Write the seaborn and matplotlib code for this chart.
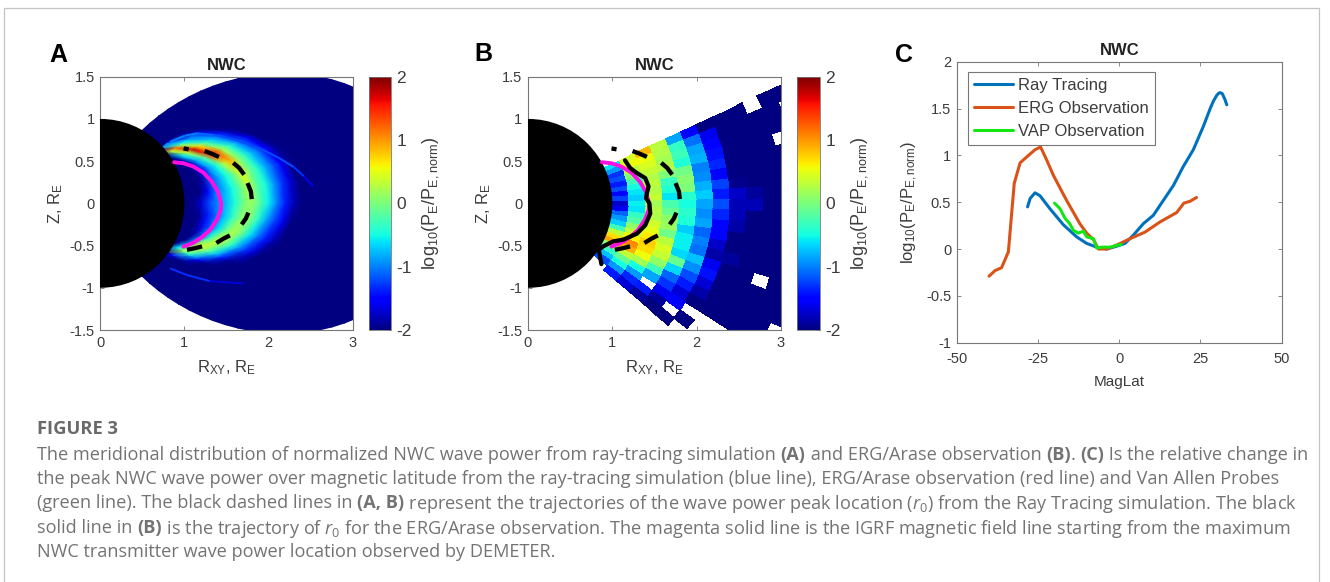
import numpy as np
import pandas as pd
import matplotlib
matplotlib.use('Agg')
import matplotlib.pyplot as plt
import seaborn as sns
from matplotlib.collections import LineCollection
from matplotlib.lines import Line2D

n = np.nan

# panel A: ray tracing power on a dipole (L, latitude) grid
rt_L = [1.1, 1.2, 1.3, 1.4, 1.5, 1.6, 1.7, 1.8, 1.9, 2.0, 2.1, 2.2, 2.3, 2.4, 2.5]
rt_lat = [42, 36, 30, 24, 18, 12, 6, 0, -6, -12, -18, -24, -30, -36, -42]
rt_power = [
    [-2, -2, -2, -2, -2, -2, -2, -1.0, -1.0, -1.6, -2, -2, -2, -2, -2],
    [-2, -2, -2, -2, -2, 0.3, 1.1, -0.1, -0.6, -1.0, -1.1, -1.7, -2, -2, -2],
    [-2, -2, -2, -1.9, -0.6, 0.3, 1.75, 0.7, -0.2, -0.7, -1.0, -1.4, -1.9, -2, -2],
    [-2, -2, -2, -1.8, -0.8, -0.2, 1.4, 1.3, 0.2, -0.35, -0.8, -1.2, -1.6, -2, -2],
    [-2, -2, -2, -1.5, -0.9, -0.5, 0.3, 0.9, 0.1, -0.35, -0.75, -1.1, -1.5, -1.9, -2],
    [-2, -2, -1.9, -1.2, -0.85, -0.5, -0.05, 0.5, -0.05, -0.4, -0.8, -1.15, -1.5, -1.9, -2],
    [-2, -2, -1.5, -1.0, -0.8, -0.5, -0.1, 0.3, -0.2, -0.5, -0.9, -1.3, -1.7, -2, -2],
    [-2, -1.7, -1.2, -0.95, -0.75, -0.45, -0.05, 0.15, -0.2, -0.55, -1.0, -1.4, -1.8, -2, -2],
    [-2, -1.9, -1.4, -1.05, -0.75, -0.35, 0.05, 0.05, -0.4, -0.85, -1.25, -1.6, -2, -2, -2],
    [-2, -2, -1.6, -1.1, -0.65, -0.1, 0.25, -0.1, -0.6, -1.05, -1.4, -1.8, -2, -2, -2],
    [-2, -2, -1.9, -1.1, -0.3, 0.35, 0.1, -0.4, -0.9, -1.3, -1.7, -2, -2, -2, -2],
    [-2, -2, -2, -0.9, 0.55, 0.25, -0.3, -0.8, -1.4, -1.9, -2, -2, -2, -2, -2],
    [-2, -2, -2, -0.6, 0.1, -0.35, -0.9, -1.6, -2, -2, -2, -2, -2, -2, -2],
    [-2, -2, -2, -2, -2, -1.5, -1.9, -2, -2, -2, -2, -2, -2, -2, -2],
    [-2, -2, -2, -2, -2, -2, -2, -2, -2, -2, -2, -2, -2, -2, -2],
]
# outer edge of the simulated domain
domain_L = 4.0
domain_lat = 60

# thin faint arcs outside the main crescent
streak_up_x = [0.83, 1.00, 1.15, 1.35, 1.54, 1.75, 1.94, 2.12, 2.30, 2.42, 2.53]
streak_up_z = [0.73, 0.80, 0.83, 0.81, 0.77, 0.70, 0.63, 0.54, 0.43, 0.32, 0.20]
streak_up_val = [-1.0, -1.0, -1.1, -1.2, -1.2, -1.2, -1.2, -1.2, -1.3, -1.6, -1.95]
streak_low_x = [0.83, 1.03, 1.30, 1.70]
streak_low_z = [-0.77, -0.85, -0.92, -0.95]
streak_low_val = [-1.3, -1.3, -1.7, -1.95]

# panel B: ERG/Arase observed power, rows from the top latitude bin downwards
erg_r = [1.0, 1.2, 1.4, 1.6, 1.8, 2.0, 2.2, 2.4, 2.6, 2.8, 3.0, 3.2, 3.4]
erg_lat = [25, 22, 19, 16, 13, 10, 7, 4, 1, -2, -5, -8, -11, -14, -17, -20, -23, -26, -29, -32, -35, -38, -41]
erg_power = [
    [-0.6, 0.45, 0.85, 0.3, -0.85, -1.5, -2, -2, -2, n, -2, -2],
    [-0.9, 0.55, 0.55, 0.25, -0.35, -1.05, -1.6, -2, -2, -2, -2, n],
    [-1.3, 0.35, 0.45, 0.2, -0.3, -0.85, -1.5, -2, -2, -2, -2, -2],
    [-1.2, 0.0, 0.35, 0.25, -0.45, -0.8, -1.45, -2, -2, -2, n, -2],
    [-1.4, -0.3, 0.25, 0.0, -0.05, -1.0, -1.35, -2, -2, -2, -2, -2],
    [-1.2, -0.5, 0.3, -0.35, 0.05, -0.95, -1.5, -2, -2, -2, -2, -2],
    [-1.5, -0.6, 0.25, -0.45, 0.0, -0.8, -1.25, -1.95, -2, -2, -2, -2],
    [-1.25, -0.7, 0.35, -0.6, -0.4, -0.7, -1.4, -1.75, -1.9, -2, -2, -2],
    [-1.75, -0.55, 0.2, -0.25, -0.5, -0.85, -1.2, -1.8, -1.8, -2, -2, -2],
    [-1.6, -0.6, 0.25, -0.1, -0.4, -0.95, -1.35, -1.8, -2, -2, -2, -2],
    [-1.1, -0.35, 0.25, 0.1, -0.45, -0.85, -1.5, -1.85, -2, -2, -2, -2],
    [-0.9, -0.2, 0.4, 0.15, -0.7, -1.1, -1.5, -2, -2, -2, -2, -2],
    [-0.7, 0.1, 0.5, -0.05, -0.55, -1.0, -1.75, -2, -2, -2, -2, -2],
    [-0.3, 0.35, 0.65, 0.3, -0.55, -1.05, -1.85, -1.9, -2, -2, -2, -2],
    [0.3, 0.6, 0.75, 0.45, -0.65, -0.75, -1.6, -2, -2, n, -2, -2],
    [0.7, 1.05, 0.7, 0.35, -0.1, -0.95, -1.45, -2, -2, -2, -2, -2],
    [0.95, 0.9, 0.55, 0.1, -0.65, -1.2, -1.7, -2, -2, -2, -2, -2],
    [0.1, 0.35, 0.2, -0.3, -1.1, -1.4, -1.85, -2, -2, -2, -2, n],
    [-0.35, -0.1, -0.5, -0.85, -1.3, -1.7, -2, -2, -2, -2, -2, -2],
    [-0.75, -0.5, -0.9, n, -1.6, -1.5, n, n, n, n, n, n],
    [-1.2, -0.9, -1.35, -1.4, -1.9, n, -2, n, n, n, n, n],
    [n, -1.4, -1.7, -1.9, -2, -2, n, n, n, n, n, n],
]

# lines over the maps
igrf_x = [0.877, 0.988, 1.107, 1.226, 1.325, 1.397, 1.436, 1.432, 1.385, 1.305, 1.206, 1.107, 0.988]
igrf_z = [0.487, 0.475, 0.436, 0.364, 0.258, 0.139, 0.0, -0.078, -0.197, -0.315, -0.402, -0.466, -0.513]
peak_x = [0.99, 1.05, n, 1.24, 1.32, 1.41, n, 1.58, 1.65, 1.71, n, 1.75, 1.79, 1.80, n,
          1.76, 1.73, 1.68, n, 1.54, 1.46, 1.38, n, 1.21, 1.13, 1.03]
peak_z = [0.65, 0.64, n, 0.62, 0.59, 0.55, n, 0.48, 0.42, 0.34, n, 0.24, 0.14, 0.05, n,
          -0.11, -0.18, -0.25, n, -0.38, -0.42, -0.47, n, -0.51, -0.53, -0.55]
erg_peak_x = [1.15, 1.21, 1.29, 1.39, 1.43, 1.41, 1.40, 1.44, 1.45, 1.39, 1.29, 1.13, 1.01, 0.89, 0.84, 0.87]
erg_peak_z = [0.51, 0.42, 0.36, 0.30, 0.20, 0.12, 0.06, 0.0, -0.12, -0.26, -0.36, -0.43, -0.45, -0.51, -0.55, -0.72]

# panel C
ray_lat = [-28.2, -27.4, -25.9, -24.4, -21.3, -17.2, -13.1, -10, -6.9, -3.8, -0.8, 1.8, 4.4, 7.4,
           10.5, 13.6, 16.7, 19.7, 22.8, 25.9, 28, 29, 30, 30.5, 31, 31.7, 32.5, 33.1]
ray_val = [0.45, 0.54, 0.60, 0.57, 0.43, 0.26, 0.13, 0.06, 0.02, 0.0, 0.03, 0.06, 0.15, 0.27,
           0.36, 0.52, 0.68, 0.88, 1.06, 1.31, 1.50, 1.58, 1.64, 1.66, 1.67, 1.66, 1.60, 1.54]
erg_mlat = [-40.05, -38.2, -36.2, -34.1, -32.3, -30.5, -27.9, -25.9, -24.2, -22.3, -20.3, -16.2, -12.1,
            -10, -7.9, -6.4, -3.8, -0.3, 3.3, 7.9, 12.6, 17.7, 19.9, 21.8, 23.8]
erg_val = [-0.29, -0.23, -0.20, -0.03, 0.70, 0.92, 1.00, 1.06, 1.09, 0.95, 0.79, 0.52, 0.27,
           0.17, 0.10, 0.0, 0.0, 0.05, 0.11, 0.18, 0.29, 0.39, 0.49, 0.51, 0.55]
vap_lat = [-19.9, -18.2, -16.7, -15.2, -14.1, -12.6, -11, -10, -7.9, -6.9, -5.4, -2.8, 0.6]
vap_val = [0.49, 0.43, 0.33, 0.27, 0.20, 0.17, 0.19, 0.13, 0.11, 0.01, 0.02, 0.02, 0.05]

caption = [
    [('The meridional distribution of normalized NWC wave power from ray-tracing simulation ', 0), ('(A)', 1),
     (' and ERG/Arase observation ', 0), ('(B)', 1), ('. ', 0), ('(C)', 1), (' Is the relative change in', 0)],
    [('the peak NWC wave power over magnetic latitude from the ray-tracing simulation (blue line), ERG/Arase observation (red line) and Van Allen Probes', 0)],
    [('(green line). The black dashed lines in ', 0), ('(A, B)', 1),
     (' represent the trajectories of the wave power peak location ($\\mathit{r}_0$) from the Ray Tracing simulation. The black', 0)],
    [('solid line in ', 0), ('(B)', 1),
     (' is the trajectory of $\\mathit{r}_0$ for the ERG/Arase observation. The magenta solid line is the IGRF magnetic field line starting from the maximum', 0)],
    [('NWC transmitter wave power location observed by DEMETER.', 0)],
]

W, H = 1330, 582
sns.set_theme(style='ticks')
plt.rcParams['font.family'] = ['Liberation Sans', 'DejaVu Sans']
plt.rcParams['axes.unicode_minus'] = False
plt.rcParams['mathtext.fontset'] = 'custom'
plt.rcParams['mathtext.rm'] = 'Liberation Sans'
plt.rcParams['mathtext.it'] = 'Open Sans:italic'
plt.rcParams['mathtext.default'] = 'regular'

INK = '#3c3c3c'
EDGE = '#777777'
CMAP = plt.get_cmap('jet')
POWER_LABEL = 'log$_{10}$(P$_E$/P$_{E,norm}$)'

fig = plt.figure(figsize=(W / 100, H / 100), dpi=100, facecolor='white')


def px_axes(x0, y0, x1, y1):
    return fig.add_axes([x0 / W, 1 - y1 / H, (x1 - x0) / W, (y1 - y0) / H])


def dipole_xz(L, lat):
    rad = np.radians(lat)
    r = L * np.cos(rad) ** 2
    return r * np.cos(rad), r * np.sin(rad)


def style_axes(ax, pad=4):
    ax.tick_params(direction='in', length=3, width=0.6, color=EDGE, top=True, right=True,
                   labelsize=10.5, labelcolor=INK, pad=pad)
    for s in ax.spines.values():
        s.set_linewidth(0.8)
        s.set_color(EDGE)
        s.set_visible(True)


def map_axes(ax, cax, mesh):
    ax.set_xlim(0, 3)
    ax.set_ylim(-1.5, 1.5)
    ax.set_xticks([0, 1, 2, 3])
    ax.set_xticklabels(['0', '1', '2', '3'])
    ax.set_yticks([-1.5, -1, -0.5, 0, 0.5, 1, 1.5])
    ax.set_yticklabels(['-1.5', '-1', '-0.5', '0', '0.5', '1', '1.5'])
    style_axes(ax)
    ax.set_xlabel('R$_{XY}$, R$_E$', fontsize=12, color=INK, labelpad=6)
    ax.set_ylabel('Z, R$_E$', fontsize=12, color=INK, labelpad=3)
    ax.set_title('NWC', fontsize=12, fontweight='bold', color='#222222', pad=5)
    ax.add_patch(plt.Circle((0, 0), 1.0, color='black', zorder=3, lw=0))
    ax.plot(igrf_x, igrf_z, color='#ff10e0', lw=2.8, zorder=4)
    cb = fig.colorbar(mesh, cax=cax)
    cb.set_ticks([-2, -1, 0, 1, 2])
    cb.set_ticklabels(['-2', '-1', '0', '1', '2'])
    cb.ax.tick_params(direction='in', length=2.5, width=0.5, color=EDGE, labelsize=12.5, labelcolor=INK, pad=4)
    cb.outline.set_linewidth(0.6)
    cb.outline.set_edgecolor(EDGE)
    cb.set_label(POWER_LABEL, fontsize=13, color=INK, labelpad=6)


def add_streak(ax, xs, zs, vals):
    pts = np.column_stack([xs, zs])
    segs = np.stack([pts[:-1], pts[1:]], axis=1)
    lc = LineCollection(segs, cmap=CMAP, norm=plt.Normalize(-2, 2), lw=1.4, zorder=2)
    lc.set_array(np.array(vals[:-1]))
    ax.add_collection(lc)


# A
ax_a = px_axes(100.3, 76.7, 352.7, 330)
cax_a = px_axes(368.7, 76.7, 390.7, 330)
gl, glat = np.meshgrid([1.0, domain_L], np.arange(-domain_lat, domain_lat + 1, 2.0))
fx, fz = dipole_xz(gl, glat)
ax_a.pcolormesh(fx, fz, np.full(gl.shape, -2.0), cmap=CMAP, vmin=-2, vmax=2, shading='gouraud', zorder=1)
lg, lt = np.meshgrid(rt_L, rt_lat)
mx, mz = dipole_xz(lg, lt)
mesh_a = ax_a.pcolormesh(mx, mz, np.array(rt_power), cmap=CMAP, vmin=-2, vmax=2, shading='gouraud', zorder=2)
add_streak(ax_a, streak_up_x, streak_up_z, streak_up_val)
add_streak(ax_a, streak_low_x, streak_low_z, streak_low_val)
map_axes(ax_a, cax_a, mesh_a)
ax_a.plot(peak_x, peak_z, color='black', lw=3.1, solid_capstyle='butt', zorder=5)

# B
ax_b = px_axes(528, 76.7, 781, 330)
cax_b = px_axes(797, 76.7, 820, 330)
rr, ll = np.meshgrid(erg_r, np.radians(erg_lat))
mesh_b = ax_b.pcolormesh(rr * np.cos(ll), rr * np.sin(ll), np.ma.masked_invalid(erg_power),
                         cmap=CMAP, vmin=-2, vmax=2, shading='flat', edgecolors='face', linewidth=0.2)
map_axes(ax_b, cax_b, mesh_b)
ax_b.plot(erg_peak_x, erg_peak_z, color='black', lw=3.0, zorder=5)
ax_b.plot(peak_x, peak_z, color='black', lw=3.1, solid_capstyle='butt', zorder=5)

# C
ax_c = px_axes(956.7, 61.7, 1281.7, 342.7)
sns.lineplot(x=ray_lat, y=ray_val, ax=ax_c, color='#0072BD', lw=2.2, label='Ray Tracing', sort=False, estimator=None)
sns.lineplot(x=erg_mlat, y=erg_val, ax=ax_c, color='#D95319', lw=2.2, label='ERG Observation', sort=False, estimator=None)
sns.lineplot(x=vap_lat, y=vap_val, ax=ax_c, color='#14e614', lw=2.2, label='VAP Observation', sort=False, estimator=None)
ax_c.set_xlim(-50, 50)
ax_c.set_ylim(-1, 2)
ax_c.set_xticks([-50, -25, 0, 25, 50])
ax_c.set_xticklabels(['-50', '-25', '0', '25', '50'])
ax_c.set_yticks([-1, -0.5, 0, 0.5, 1, 1.5, 2])
ax_c.set_yticklabels(['-1', '-0.5', '0', '0.5', '1', '1.5', '2'])
style_axes(ax_c)
ax_c.tick_params(axis='x', pad=7)
ax_c.set_xlabel('MagLat', fontsize=11, color=INK, labelpad=6)
ax_c.set_ylabel(POWER_LABEL, fontsize=12, color=INK, labelpad=4)
ax_c.set_title('NWC', fontsize=12, fontweight='bold', color='#222222', pad=5)
leg = ax_c.legend(loc='upper left', bbox_to_anchor=(0.035, 0.965), borderaxespad=0, frameon=True, fancybox=False,
                  framealpha=1, edgecolor=EDGE, fontsize=12, labelspacing=0.5, handlelength=2.35,
                  handletextpad=0.3, borderpad=0.36, labelcolor=INK)
leg.get_frame().set_linewidth(0.8)

# panel letters
for label, lx, ly in [('A', 58, 55), ('B', 483.5, 54), ('C', 903.5, 55)]:
    fig.text(lx / W, 1 - ly / H, label, fontsize=18, fontweight='bold', color='black', ha='center', va='center')

# card border
for xs, ys in [([4, 4], [582, 8]), ([4, 1319], [8, 8]), ([1319, 1319], [8, 582])]:
    fig.add_artist(Line2D(np.array(xs) / W, 1 - np.array(ys) / H, color='#c4c4c4', lw=0.9))

# caption
CAP = '#737373'
CAP_FONT = ['Open Sans', 'DejaVu Sans']
fig.text(37 / W, 1 - 429 / H, 'FIGURE 3', fontsize=13.2, fontweight='bold', color='#6a6a6a',
         family=CAP_FONT, va='center')
rend = fig.canvas.get_renderer()
for i, runs in enumerate(caption):
    x = 37.0
    y = 453 + i * 24.2
    for text, bold in runs:
        t = fig.text(x / W, 1 - y / H, text, fontsize=13.08, color=CAP, family=CAP_FONT,
                     fontweight='bold' if bold else 'normal', va='center_baseline')
        # next run starts where this one ends
        x += t.get_window_extent(rend).width

fig.savefig('out.png', dpi=100)
